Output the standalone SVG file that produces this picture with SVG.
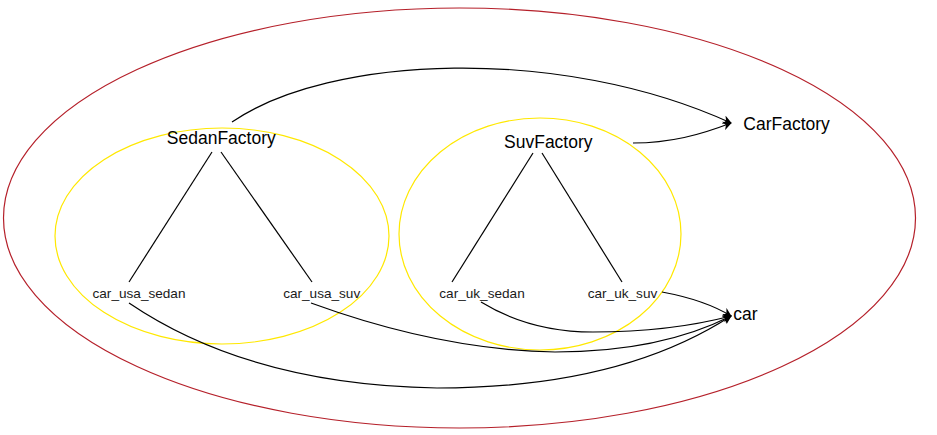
<svg xmlns="http://www.w3.org/2000/svg" width="937" height="435" viewBox="0 0 937 435">
<defs>
<style>
.big{font-family:"Liberation Sans",Arial,sans-serif;font-size:17.5px;fill:#000}
.sm{font-family:"Liberation Sans",Arial,sans-serif;font-size:13.6px;fill:#1a1a1a}
.ln{fill:none;stroke:#000;stroke-width:1.2}
.arr{fill:none;stroke:#000;stroke-width:1.2;marker-end:url(#ah)}
.yel{fill:none;stroke:#FFE800;stroke-width:1.2}
</style>
<marker id="ah" viewBox="0 0 10 10" refX="9" refY="5" markerWidth="9" markerHeight="9" markerUnits="userSpaceOnUse" orient="auto">
<path d="M0,0 L10,5 L0,10 L3,5 Z" fill="#000"/>
</marker>
</defs>
<rect width="937" height="435" fill="#fff"/>
<g id="outer"><ellipse cx="459.5" cy="218" rx="456" ry="210" fill="none" stroke="#B5202A" stroke-width="1.2"/></g>
<g id="sedanGroup"><ellipse class="yel" cx="222" cy="236" rx="167" ry="108"/></g>
<g id="suvGroup"><ellipse class="yel" cx="540" cy="234" rx="141" ry="116"/></g>
<g id="connectors">
<line class="ln" x1="212" y1="152" x2="129" y2="282"/>
<line class="ln" x1="221" y1="152" x2="312" y2="282"/>
<line class="ln" x1="533" y1="153" x2="452" y2="282"/>
<line class="ln" x1="542" y1="153" x2="622" y2="282"/>
<path class="arr" d="M232,122 C330,55 560,45 731,123"/>
<path class="arr" d="M633,143 C670,143 700,135 731,123"/>
<path class="arr" d="M662,292 Q705,300 731,316"/>
<path class="arr" d="M481,302 Q530,332 593,332 Q670,332 731,316"/>
<path class="arr" d="M311,303 Q440,350 555,352 Q660,352 731,316"/>
<path class="arr" d="M129,303 Q250,385 437,388 Q620,388 731,316"/>
</g>
<g id="SedanFactory"><text class="big" x="221.3" y="144.3" text-anchor="middle">SedanFactory</text></g>
<g id="SuvFactory"><text class="big" x="548.3" y="148.3" text-anchor="middle">SuvFactory</text></g>
<g id="CarFactory"><text class="big" x="743.3" y="130">CarFactory</text></g>
<g id="car"><text class="big" x="733.3" y="320" font-size="17">car</text></g>
<g id="car_usa_sedan"><text class="sm" x="139" y="298.3" text-anchor="middle">car_usa_sedan</text></g>
<g id="car_usa_suv"><text class="sm" x="321.7" y="298.3" text-anchor="middle">car_usa_suv</text></g>
<g id="car_uk_sedan"><text class="sm" x="482" y="297.7" text-anchor="middle">car_uk_sedan</text></g>
<g id="car_uk_suv"><text class="sm" x="622.5" y="297.7" text-anchor="middle">car_uk_suv</text></g>
</svg>
